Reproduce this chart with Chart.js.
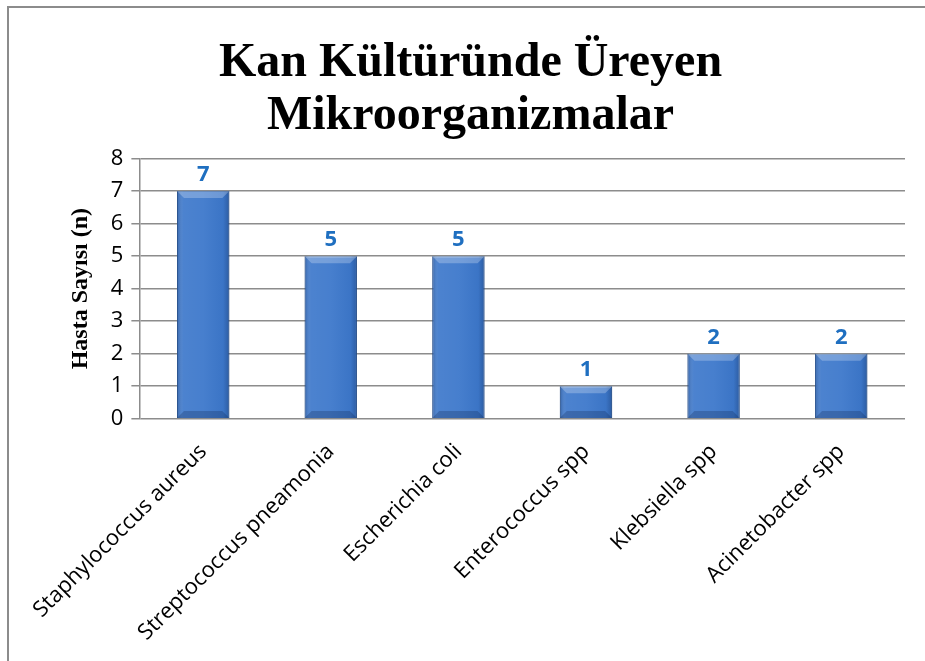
<!DOCTYPE html>
<html>
<head>
<meta charset="utf-8">
<script src="https://cdn.jsdelivr.net/npm/chart.js@4.4.1/dist/chart.umd.min.js"></script>
<style>
  html, body { margin: 0; padding: 0; background: #fff; }
  #wrap { position: relative; width: 925px; height: 661px; overflow: hidden; }
  #frame { position: absolute; left: 7px; top: 6px; width: 940px; height: 680px; border: 2px solid #8c8c8c; box-sizing: border-box; }
  canvas { position: absolute; left: 0; top: 0; }
</style>
</head>
<body>
<div id="wrap">
  <div id="frame"></div>
  <canvas id="bloodChart" width="925" height="661"></canvas>
</div>
<script>
// kan kültürü grafiği
const organisms = ['Staphylococcus aureus', 'Streptococcus pneamonia', 'Escherichia coli', 'Enterococcus spp', 'Klebsiella spp', 'Acinetobacter spp'];
const patientCounts = [7, 5, 5, 1, 2, 2];
const yTicks = [0, 1, 2, 3, 4, 5, 6, 7, 8];

// etiketler ve kabartma görünümü
const barLook = {
    id: 'barLook',
    afterDatasetsDraw(chart) {
        const ctx = chart.ctx;
        const meta = chart.getDatasetMeta(0);
        meta.data.forEach((bar, i) => {
            const left = bar.x - bar.width / 2;
            const right = bar.x + bar.width / 2;
            const top = bar.y;
            const bottom = bar.base;
            ctx.save();
            // yatay gölgelendirme
            const g = ctx.createLinearGradient(left, 0, right, 0);
            g.addColorStop(0, 'rgba(20,50,100,0.35)');
            g.addColorStop(0.12, 'rgba(255,255,255,0.08)');
            g.addColorStop(0.5, 'rgba(255,255,255,0.05)');
            g.addColorStop(0.88, 'rgba(20,50,100,0.05)');
            g.addColorStop(1, 'rgba(20,50,100,0.4)');
            ctx.fillStyle = g;
            ctx.fillRect(left, top, right - left, bottom - top);
            // üst ve alt kenar
            const bev = 7;
            ctx.fillStyle = 'rgba(255,255,255,0.25)';
            ctx.beginPath();
            ctx.moveTo(left, top);
            ctx.lineTo(right, top);
            ctx.lineTo(right - bev, top + bev);
            ctx.lineTo(left + bev, top + bev);
            ctx.closePath();
            ctx.fill();
            ctx.fillStyle = 'rgba(10,30,70,0.25)';
            ctx.beginPath();
            ctx.moveTo(left, bottom);
            ctx.lineTo(right, bottom);
            ctx.lineTo(right - bev, bottom - bev);
            ctx.lineTo(left + bev, bottom - bev);
            ctx.closePath();
            ctx.fill();
            // değer
            ctx.fillStyle = '#1f6fc0';
            ctx.font = 'bold 22px "Open Sans"';
            ctx.textAlign = 'center';
            ctx.textBaseline = 'bottom';
            ctx.fillText(String(patientCounts[i]), bar.x, top - 5);
            ctx.restore();
        });
    }
};

new Chart(bloodChart, {
    type: 'bar',
    data: {
        labels: organisms,
        datasets: [{
            label: 'Hasta Sayısı',
            data: patientCounts,
            backgroundColor: '#3d78cb',
            borderColor: '#2c5c9f',
            borderWidth: 1,
            categoryPercentage: 0.82,
            barPercentage: 0.5
        }]
    },
    options: {
        responsive: false,
        animation: false,
        layout: {
            padding: { left: 36, right: 20, top: 37, bottom: 3 }
        },
        plugins: {
            legend: { display: false },
            tooltip: { enabled: false },
            title: {
                display: true,
                text: ['Kan Kültüründe Üreyen', 'Mikroorganizmalar'],
                color: '#000',
                font: { family: '"Liberation Serif"', size: 48, weight: 'bold', lineHeight: 1.1 },
                padding: { top: 0, bottom: 16 }
            }
        },
        scales: {
            x: {
                grid: { display: false },
                border: { display: false },
                ticks: {
                    color: '#000',
                    maxRotation: 45,
                    minRotation: 45,
                    padding: 12,
                    font: { family: '"Open Sans"', size: 22 }
                }
            },
            y: {
                min: 0,
                max: 8,
                afterBuildTicks(axis) { axis.ticks = yTicks.map(v => ({ value: v })); },
                grid: { color: '#8c8c8c', lineWidth: 1.5, tickLength: 8 },
                border: { color: '#8c8c8c', width: 1.5 },
                ticks: {
                    color: '#000',
                    padding: 8,
                    font: { family: '"Open Sans"', size: 22 }
                },
                title: {
                    display: true,
                    text: 'Hasta Sayısı (n)',
                    color: '#000',
                    font: { family: '"Liberation Serif"', size: 24, weight: 'bold' },
                    padding: { top: 30, bottom: 8 }
                }
            }
        }
    },
    plugins: [barLook]
});
</script>
</body>
</html>
